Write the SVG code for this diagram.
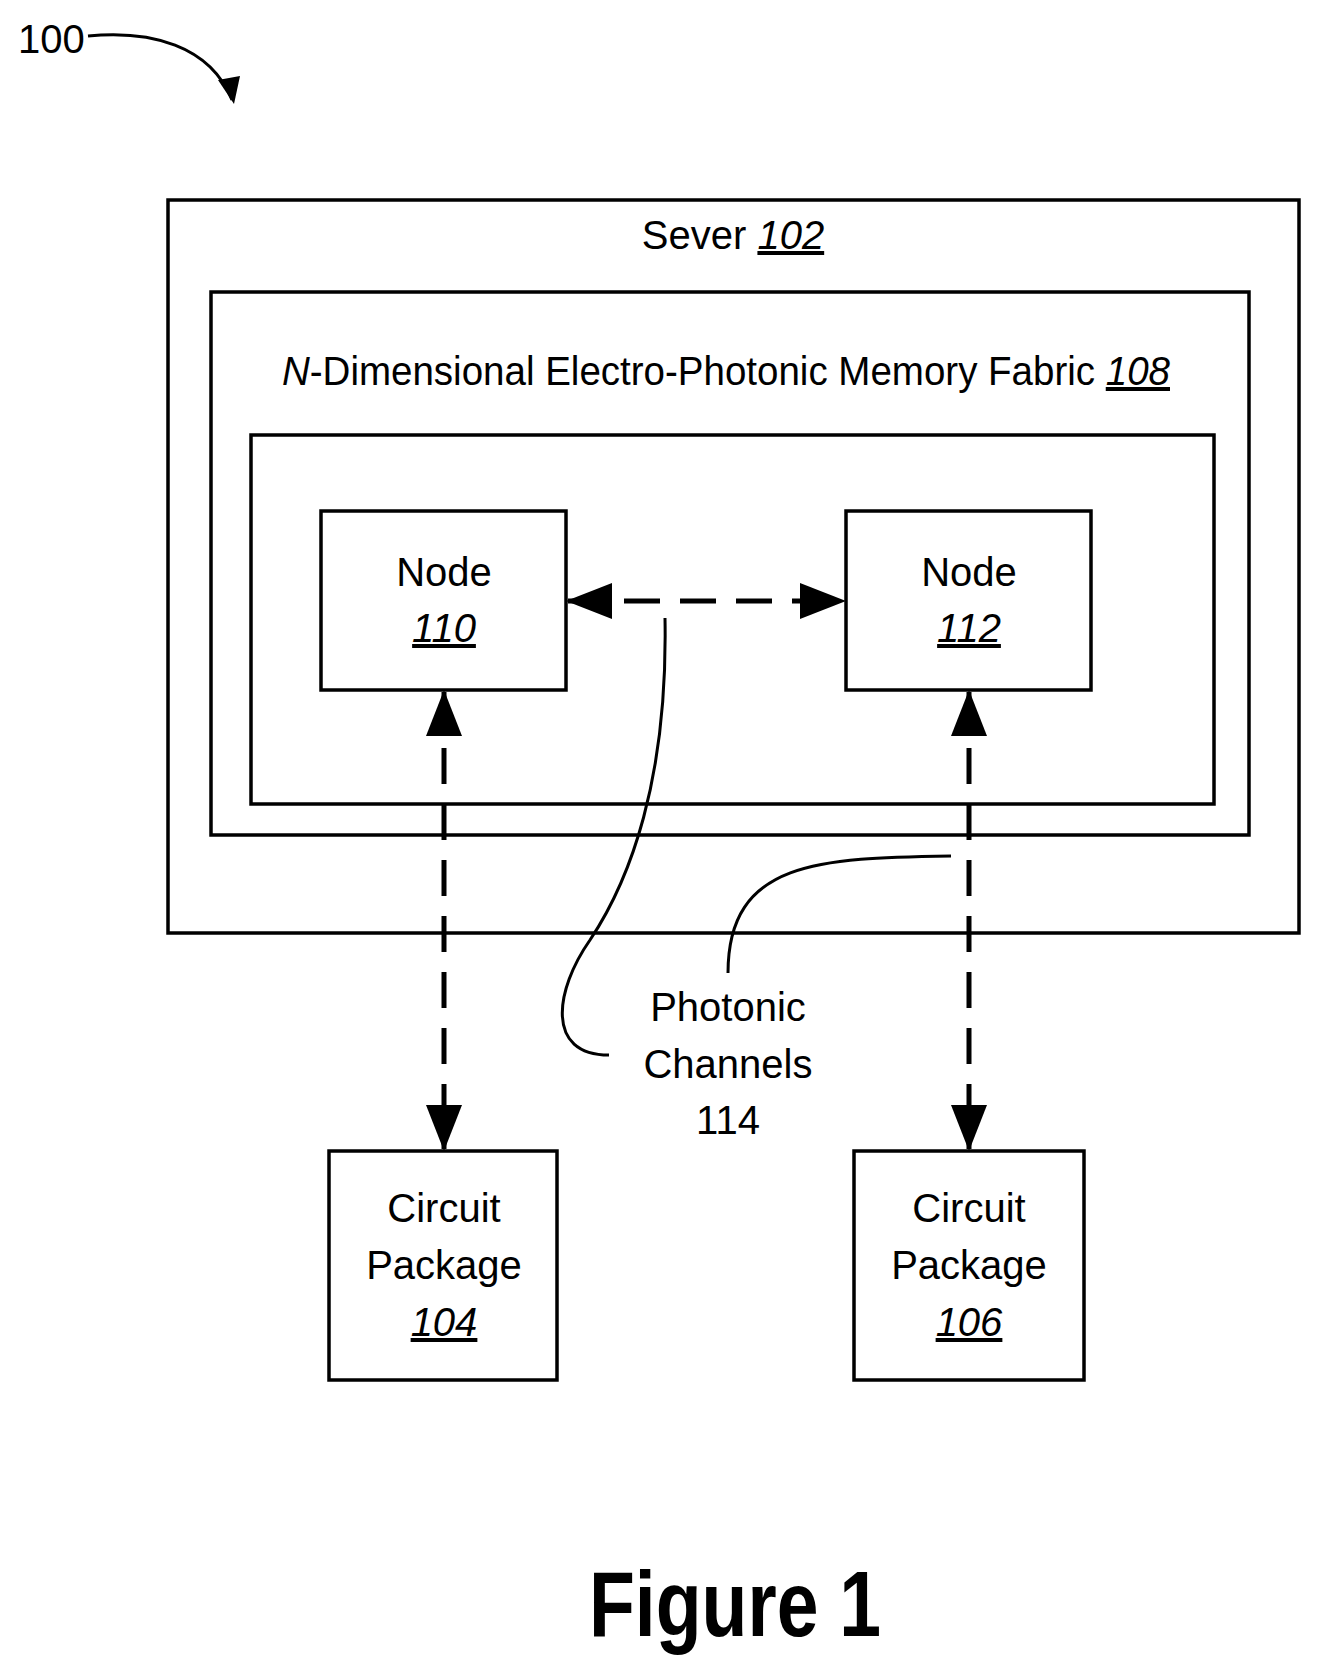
<svg xmlns="http://www.w3.org/2000/svg" width="1325" height="1679" viewBox="0 0 1325 1679">
<style>
.b{fill:#fff;stroke:#000;stroke-width:3.5}
.t{font-family:"Liberation Sans",Arial,sans-serif;font-size:40px;text-anchor:middle;fill:#000}
.u{text-decoration:underline;font-style:italic}
.d{stroke:#000;stroke-width:5;stroke-dasharray:36,20;fill:none}
.c{stroke:#000;stroke-width:3;fill:none}
</style>
<defs>
<marker id="ah" markerWidth="46" markerHeight="36" refX="44" refY="18" orient="auto-start-reverse" markerUnits="userSpaceOnUse"><path d="M0,0L46,18L0,36z"/></marker>
</defs>
<g id="label100"><text class="t" x="18" y="53" style="text-anchor:start">100</text></g>
<g id="server"><rect class="b" x="168" y="200" width="1131" height="733"/><text class="t" x="733" y="249">Sever <tspan class="u">102</tspan></text></g>
<g id="fabric"><rect class="b" x="211" y="292" width="1038" height="543"/><text class="t" x="726" y="385" textLength="888" lengthAdjust="spacingAndGlyphs"><tspan font-style="italic">N</tspan>-Dimensional Electro-Photonic Memory Fabric <tspan class="u">108</tspan></text></g>
<g id="inner"><rect class="b" x="251" y="435" width="963" height="369"/></g>
<g id="node110"><rect class="b" x="321" y="511" width="245" height="179"/><text class="t" x="444" y="586">Node</text><text class="t u" x="444" y="642">110</text></g>
<g id="node112"><rect class="b" x="846" y="511" width="245" height="179"/><text class="t" x="969" y="586">Node</text><text class="t u" x="969" y="642">112</text></g>
<g id="cp104"><rect class="b" x="329" y="1151" width="228" height="229"/><text class="t" x="444" y="1222">Circuit</text><text class="t" x="444" y="1279">Package</text><text class="t u" x="444" y="1336">104</text></g>
<g id="cp106"><rect class="b" x="854" y="1151" width="230" height="229"/><text class="t" x="969" y="1222">Circuit</text><text class="t" x="969" y="1279">Package</text><text class="t u" x="969" y="1336">106</text></g>
<g id="photonic"><text class="t" x="728" y="1021">Photonic</text><text class="t" x="728" y="1078">Channels</text><text class="t" x="728" y="1134">114</text></g>
<g id="fig"><text class="t" x="735" y="1636" textLength="292" lengthAdjust="spacingAndGlyphs" style="font-size:92px;font-weight:bold">Figure 1</text></g>
<g id="connectors">
<path class="c" d="M88,36 C150,30 210,45 232,100"/>
<path d="M218,80 L234,104 L240,76 z"/>
<path class="d" d="M568,601 L844,601" marker-start="url(#ah)" marker-end="url(#ah)"/>
<path class="d" d="M444,692 L444,1149" marker-start="url(#ah)" marker-end="url(#ah)"/>
<path class="d" d="M969,692 L969,1149" marker-start="url(#ah)" marker-end="url(#ah)"/>
<path class="c" d="M665,618 C668,780 630,880 590,940 C555,990 545,1055 609,1055"/>
<path class="c" d="M951,856 C820,858 728,860 728,973"/>
</g>
</svg>
